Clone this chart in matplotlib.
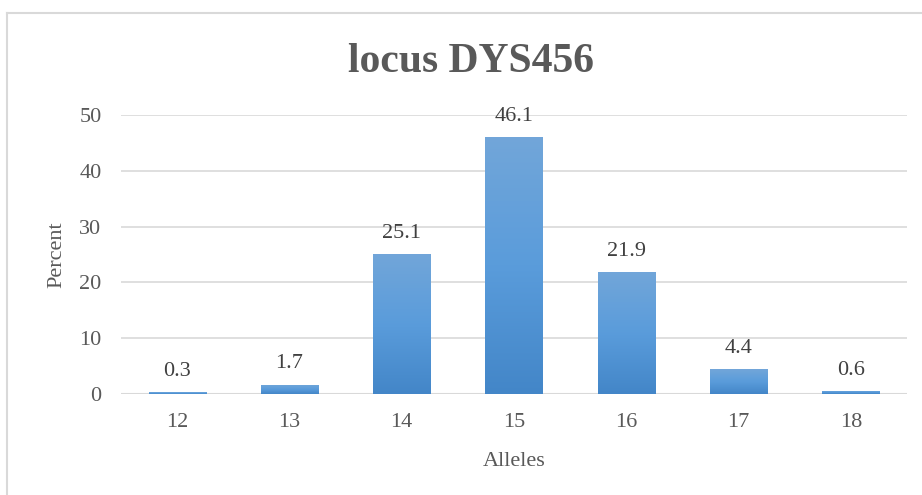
import matplotlib
matplotlib.use("Agg")
import matplotlib.pyplot as plt
import numpy as np
from matplotlib.lines import Line2D
from matplotlib.colors import LinearSegmentedColormap

alleles = ["12", "13", "14", "15", "16", "17", "18"]
percent = [0.3, 1.7, 25.1, 46.1, 21.9, 4.4, 0.6]
labels = ["0.3", "1.7", "25.1", "46.1", "21.9", "4.4", "0.6"]
yticks = [0, 10, 20, 30, 40, 50]

plt.rcParams['font.family'] = ['Liberation Serif', 'DejaVu Serif']

W, H = 922, 495
fig = plt.figure(figsize=(W / 100, H / 100), dpi=100)
ax = fig.add_axes([121 / W, 1 - 394 / H, (907 - 121) / W, (394 - 115) / H])

x = np.arange(len(alleles))
bars = ax.bar(x, percent, width=0.51, color="#5b9bd5", zorder=3)

grad = np.linspace(0, 1, 256).reshape(-1, 1)
cmap = LinearSegmentedColormap.from_list("g", ["#4386c8", "#5a9cdb", "#72a6d9"])
for b in bars:
    x0, w, h = b.get_x(), b.get_width(), b.get_height()
    im = ax.imshow(grad, cmap=cmap, origin="lower", aspect="auto",
                   extent=[x0, x0 + w, 0, max(h, 0.3)], zorder=3.5)
    im.set_clip_path(b)

for xi, v, t in zip(x, percent, labels):
    ax.annotate(t, (xi, v), xytext=(0, 8), textcoords="offset points",
                ha="center", va="bottom", fontsize=16, color="#404040")

ax.set_xlim(-0.5, len(alleles) - 0.5)
ax.set_ylim(0, 50)
ax.set_xticks(x)
ax.set_xticklabels(alleles)
ax.set_yticks(yticks)
ax.tick_params(axis="both", length=0, labelsize=16, labelcolor="#595959")
ax.tick_params(axis="y", pad=14)
ax.tick_params(axis="x", pad=14)
ax.grid(axis="y", color="#d9d9d9", linewidth=1.2, zorder=0)
for s in ax.spines.values():
    s.set_visible(False)
ax.axhline(0, color="#d9d9d9", linewidth=1.5, zorder=2)

ax.set_xlabel("Alleles", fontsize=16, color="#595959", labelpad=14)
ax.set_ylabel("Percent", fontsize=16, color="#595959", labelpad=9)

fig.text(471 / W, 1 - 62 / H, "locus DYS456", ha="center", va="center",
         fontsize=30, fontweight="bold", color="#595959")

fig.add_artist(Line2D([7 / W, 7 / W], [0, 1 - 13 / H], color="#d9d9d9", linewidth=1.5,
                      transform=fig.transFigure))
fig.add_artist(Line2D([7 / W, 1], [1 - 13 / H, 1 - 13 / H], color="#d9d9d9", linewidth=1.5,
                      transform=fig.transFigure))

fig.savefig("out.png", dpi=100)
